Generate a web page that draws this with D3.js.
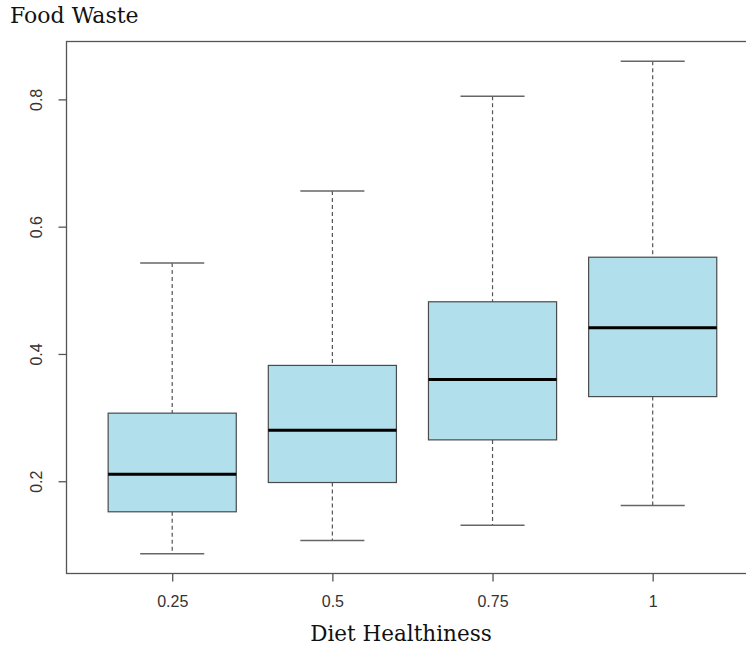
<!DOCTYPE html>
<html>
<head>
<meta charset="utf-8">
<script src="https://cdn.jsdelivr.net/npm/d3@7"></script>
<style>
  html, body { margin: 0; padding: 0; background: #fff; }
  svg { display: block; }
</style>
</head>
<body>
<svg id="chart" width="746" height="649"></svg>
<script>
// Diet healthiness groups and five-number summaries of food waste
const categories = ["0.25", "0.5", "0.75", "1"];
const lowerWhisker = [0.086, 0.107, 0.131, 0.162];
const q1           = [0.152, 0.198, 0.265, 0.333];
const median       = [0.211, 0.280, 0.360, 0.441];
const q3           = [0.307, 0.382, 0.482, 0.552];
const upperWhisker = [0.543, 0.656, 0.805, 0.860];
const yTicks = [0.2, 0.4, 0.6, 0.8];

const svg = d3.select("#chart");
const plot = { left: 66.5, top: 41.5, right: 758.4, bottom: 573.5 };

// R-style limits: positions 1..n padded by 0.5, then extended by 4%
const n = categories.length;
const xr = [0.5, n + 0.5];
const xe = (xr[1] - xr[0]) * 0.04;
const x = d3.scaleLinear().domain([xr[0] - xe, xr[1] + xe]).range([plot.left, plot.right]);

const dmin = d3.min(lowerWhisker), dmax = d3.max(upperWhisker);
const ye = (dmax - dmin) * 0.04;
const y = d3.scaleLinear().domain([dmin - ye, dmax + ye]).range([plot.bottom, plot.top]);

const boxW = x(1.4) - x(1);      // half box width (0.8 total)
const capW = x(1.2) - x(1);      // half staple width
const stroke = "#4a4a4a";
const sansFont = "'Liberation Sans', Arial, sans-serif";
const serifFont = "'DejaVu Serif', serif";

const groups = svg.append("g").selectAll("g")
  .data(categories.map((c, i) => ({ c, i, pos: i + 1 })))
  .join("g");

// whiskers (dashed)
groups.append("line")
  .attr("x1", d => x(d.pos)).attr("x2", d => x(d.pos))
  .attr("y1", d => y(upperWhisker[d.i])).attr("y2", d => y(q3[d.i]))
  .attr("stroke", "#555").attr("stroke-width", 1.2).attr("stroke-dasharray", "4,3");
groups.append("line")
  .attr("x1", d => x(d.pos)).attr("x2", d => x(d.pos))
  .attr("y1", d => y(q1[d.i])).attr("y2", d => y(lowerWhisker[d.i]))
  .attr("stroke", "#555").attr("stroke-width", 1.2).attr("stroke-dasharray", "4,3");

// staples
["upper", "lower"].forEach(k => {
  groups.append("line")
    .attr("x1", d => x(d.pos) - capW).attr("x2", d => x(d.pos) + capW)
    .attr("y1", d => y(k === "upper" ? upperWhisker[d.i] : lowerWhisker[d.i]))
    .attr("y2", d => y(k === "upper" ? upperWhisker[d.i] : lowerWhisker[d.i]))
    .attr("stroke", "#666").attr("stroke-width", 1.5);
});

// boxes
groups.append("rect")
  .attr("x", d => x(d.pos) - boxW)
  .attr("width", 2 * boxW)
  .attr("y", d => y(q3[d.i]))
  .attr("height", d => y(q1[d.i]) - y(q3[d.i]))
  .attr("fill", "#b2dfec").attr("stroke", stroke).attr("stroke-width", 1.2);

// medians
groups.append("line")
  .attr("x1", d => x(d.pos) - boxW).attr("x2", d => x(d.pos) + boxW)
  .attr("y1", d => y(median[d.i])).attr("y2", d => y(median[d.i]))
  .attr("stroke", "#000").attr("stroke-width", 3);

// frame
svg.append("rect")
  .attr("x", plot.left).attr("y", plot.top)
  .attr("width", plot.right - plot.left).attr("height", plot.bottom - plot.top)
  .attr("fill", "none").attr("stroke", "#555").attr("stroke-width", 1.3);

// axes
const xAxis = d3.axisBottom(x)
  .tickValues(categories.map((c, i) => i + 1))
  .tickFormat((d, i) => categories[i])
  .tickSize(8).tickPadding(14);
const gx = svg.append("g").attr("transform", `translate(0,${plot.bottom})`).call(xAxis);
gx.select(".domain").remove();
gx.selectAll(".tick line").attr("stroke", "#555").attr("stroke-width", 1.3);
gx.selectAll(".tick text")
  .attr("font-family", sansFont)
  .attr("font-size", 16).attr("fill", "#333");

const yAxis = d3.axisLeft(y).tickValues(yTicks).tickFormat(d3.format(".1f")).tickSize(8);
const gy = svg.append("g").attr("transform", `translate(${plot.left},0)`).call(yAxis);
gy.select(".domain").remove();
gy.selectAll(".tick line").attr("stroke", "#555").attr("stroke-width", 1.3);
gy.selectAll(".tick text")
  .attr("x", 0).attr("dy", 0)
  .attr("transform", "translate(-30,0) rotate(-90)")
  .attr("text-anchor", "middle")
  .attr("dominant-baseline", "central")
  .attr("font-family", sansFont)
  .attr("font-size", 16).attr("fill", "#333");

// titles
svg.append("text")
  .attr("x", 10).attr("y", 23)
  .attr("font-family", serifFont)
  .attr("font-size", 22).attr("fill", "#111")
  .text("Food Waste");
svg.append("text")
  .attr("x", 401).attr("y", 641)
  .attr("text-anchor", "middle")
  .attr("font-family", serifFont)
  .attr("font-size", 21.5).attr("fill", "#111")
  .text("Diet Healthiness");
</script>
</body>
</html>
